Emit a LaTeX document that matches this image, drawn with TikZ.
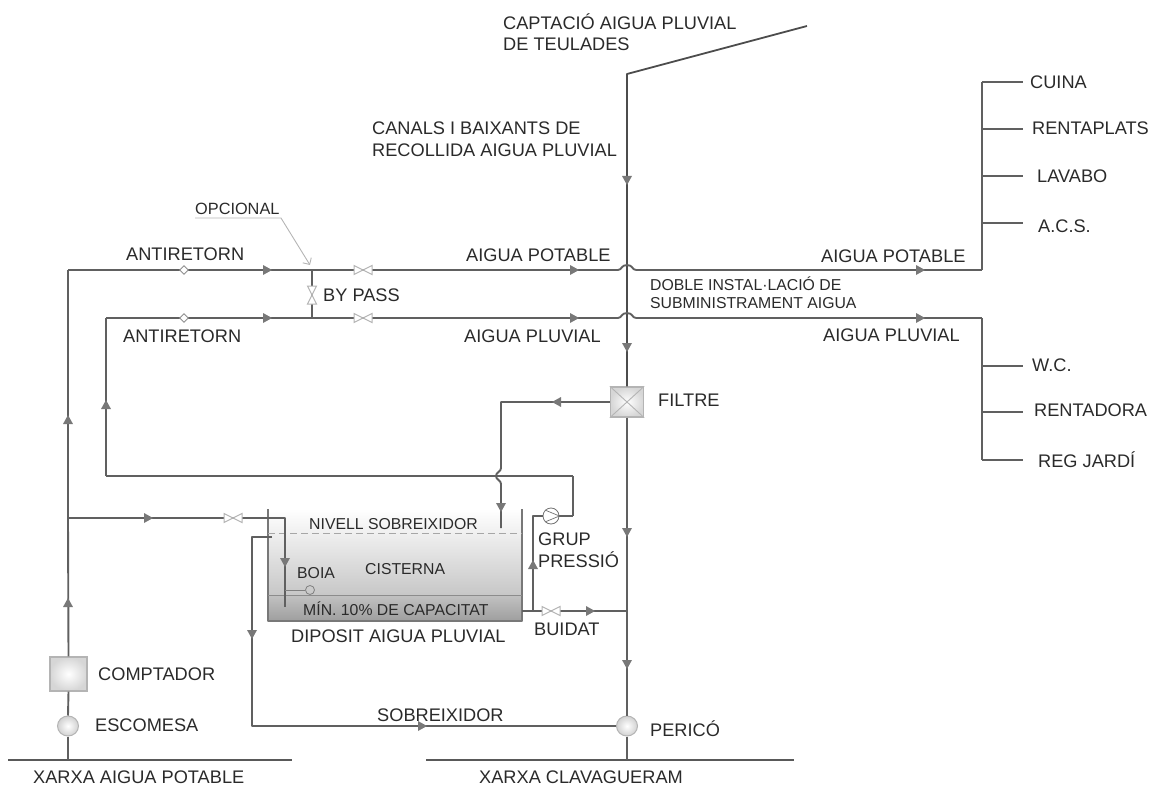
\documentclass[tikz,border=0pt]{standalone}
\usepackage{fontspec}
\setmainfont{Liberation Sans}
\usetikzlibrary{arrows.meta,calc,shapes.geometric}
\definecolor{pipec}{HTML}{606060}
\definecolor{txtc}{HTML}{2A2A2A}
\definecolor{edgec}{HTML}{B4B4B4}
\tikzset{
  pipe/.style={draw=pipec,line width=1.9pt,line join=round},
  lab/.style={text=txtc,font=\fontsize{18.2}{21.5}\selectfont,inner sep=0pt,align=left},
  midlab/.style={text=txtc,font=\fontsize{15.8}{18}\selectfont,inner sep=0pt,align=left},
  valveh/.style={draw=edgec,fill=white,line width=1pt},
  roundel/.style={ellipse,draw=edgec,line width=1pt,inner color=white,outer color=black!18,inner sep=0pt},
  boxnode/.style={rectangle,draw=edgec,line width=1.4pt,inner color=white,outer color=black!16,inner sep=0pt},
}
\newcommand{\hvalve}[1]{\draw[valveh] ($(#1)+(-9,-4.5)$) -- ($(#1)+(9,4.5)$) -- ($(#1)+(9,-4.5)$) -- ($(#1)+(-9,4.5)$) -- cycle;}
\newcommand{\vvalve}[1]{\draw[valveh] ($(#1)+(-4.5,-9)$) -- ($(#1)+(4.5,9)$) -- ($(#1)+(-4.5,9)$) -- ($(#1)+(4.5,-9)$) -- cycle;}
\begin{document}
\begin{tikzpicture}[x=1pt,y=-1pt]
\useasboundingbox (0,0) rectangle (1160,789);
% tank
\shade[top color=white,bottom color=black!22] (268,509) rectangle (522,595);
\shade[top color=black!24,bottom color=black!38] (268,595) rectangle (522,621);
\draw[draw=pipec!85,line width=1.7pt,line join=round] (268,509) -- (268,621) -- (522,621) -- (522,509);
\draw[draw=black!45,line width=0.8pt] (268,595) -- (522,595);
\draw[draw=black!35,line width=1pt,dash pattern=on 7pt off 4pt] (268,533) -- (522,533);
% coordinates
\coordinate (roof) at (807,26);
\coordinate (top) at (627,74);
\coordinate (pl) at (68,270);
\coordinate (pr) at (982,270);
\coordinate (ql) at (106,318);
\coordinate (qr) at (982,318);
\coordinate (bypassT) at (312,270);
\coordinate (bypassB) at (312,318);
\coordinate (hop1a) at (618,270);
\coordinate (hop1b) at (636,270);
\coordinate (hop2a) at (618,318);
\coordinate (hop2b) at (636,318);
\coordinate (tap) at (68,518);
\coordinate (fillcorner) at (285,518);
\coordinate (fillend) at (285,607);
\coordinate (boiaS) at (285,590);
\coordinate (ovS) at (272,537);
\coordinate (ovC) at (252,537);
\coordinate (ovD) at (252,726);
\coordinate (drainS) at (522,611);
\coordinate (drainE) at (627,611);
\coordinate (pumpC) at (533,611);
\coordinate (pumpT) at (533,516);
\coordinate (retA) at (573,516);
\coordinate (retB) at (573,476);
\coordinate (retC) at (106,476);
\coordinate (fA) at (501,402);
\coordinate (fB) at (501,468);
\coordinate (fC) at (501,484);
\coordinate (fD) at (501,528);
\coordinate (b1) at (8,760);
\coordinate (b2) at (292,760);
\coordinate (b3) at (426,760);
\coordinate (b4) at (794,760);
\coordinate (j1) at (68,760);
\coordinate (j2) at (627,760);
\coordinate (ct) at (982,82);
\coordinate (cb) at (982,460);
% equipment nodes
\node[boxnode,minimum width=37pt,minimum height=34pt] (comp) at (68.5,674) {};
\node[roundel,minimum width=21pt,minimum height=20pt] (esc) at (68,726) {};
\node[roundel,minimum width=21pt,minimum height=20pt] (per) at (627,726) {};
\node[boxnode,minimum width=33pt,minimum height=30pt] (filt) at (627,402) {};
\node[circle,draw=black!55,fill=white,line width=0.8pt,minimum size=16pt,inner sep=0pt] (pump) at (551,516) {};
\node[circle,draw=black!50,fill=none,line width=0.8pt,minimum size=9pt,inner sep=0pt] (boia) at (310,590) {};
% network lines
\draw[draw=black!65,line width=1.5pt] (b1) -- (b2);
\draw[draw=black!65,line width=1.5pt] (b3) -- (b4);
% main vertical
\draw[draw=black!70,line width=1.8pt,line join=round] (roof) -- (top) -- (filt.north);
\draw[pipe] (filt.south) -- (per.north);
\draw[pipe] (per.south) -- (j2);
% left vertical
\draw[pipe] (esc.south) -- (j1);
\draw[pipe] (comp.south) -- (esc.north);
\draw[pipe] (comp.north) -- (tap);
\draw[pipe] (tap) -- (pl);
% potable
\draw[pipe] (pl) -- (bypassT);
\draw[pipe] (bypassT) -- (hop1a) .. controls (622,270) and (621,265) .. (627,265) .. controls (633,265) and (632,270) .. (hop1b);
\draw[pipe] (hop1b) -- (pr);
% pluvial
\draw[pipe] (ql) -- (bypassB);
\draw[pipe] (bypassB) -- (hop2a) .. controls (622,318) and (621,313) .. (627,313) .. controls (633,313) and (632,318) .. (hop2b);
\draw[pipe] (hop2b) -- (qr);
\draw[pipe] (bypassT) -- (bypassB);
% return to x=106
\draw[pipe] (retC) -- (ql);
\draw[pipe] (retB) -- (retC);
\draw[pipe] (retA) -- (retB);
\draw[pipe] (pump.east) -- (retA);
\draw[pipe] (pumpC) -- (pumpT) -- (pump.west);
% supply to tank
\draw[pipe] (tap) -- (fillcorner) -- (fillend);
\draw[pipe] (ovS) -- (ovC) -- (ovD) -- (per.west);
\draw[draw=black!50,line width=0.9pt] (boiaS) -- (boia.west);
% filter out
\draw[pipe] (filt.west) -- (fA) -- (fB) .. controls (501,472) and (496,472) .. (496,476) .. controls (496,480) and (501,480) .. (fC) -- (fD);
% drain
\draw[pipe] (drainS) -- (drainE);
% arrowheads
\foreach \p/\y in {267/270,267/318,574/270,574/318,920/270,920/318,148/518,422/726,590/611}{
  \fill[pipec!85] (\p-4,\y-5) -- (\p+5,\y) -- (\p-4,\y+5) -- cycle;}
\foreach \p/\y in {627/180,627/347,627/532,627/664,285/562,252/634,501/507}{
  \fill[pipec!85] (\p-5,\y-4) -- (\p+5,\y-4) -- (\p,\y+5) -- cycle;}
\foreach \p/\y in {68/420,68/603,106/405,533/565}{
  \fill[pipec!85] (\p-5,\y+4) -- (\p+5,\y+4) -- (\p,\y-5) -- cycle;}
\fill[pipec!85] (552,402) -- (561,397) -- (561,407) -- cycle;
% branches
\draw[pipe] (ct) -- (pr);
\draw[pipe] (qr) -- (cb);
\foreach \n/\y in {cuina/82,rent/129,lava/176,acs/223,wc/366,rentad/412,reg/460}{
  \coordinate (\n) at (982,\y);
  \coordinate (\n e) at (1023,\y);
  \draw[draw=pipec,line width=1.5pt] (\n) -- (\n e);}
% valves
\coordinate (v1) at (233,518); \hvalve{v1}
\coordinate (v2) at (363,270); \hvalve{v2}
\coordinate (v3) at (363,318); \hvalve{v3}
\coordinate (v4) at (551,611); \hvalve{v4}
\coordinate (v5) at (312,295); \vvalve{v5}
\foreach \n/\y in {d1/270,d2/318}{
  \node[diamond,draw=edgec!80!black,fill=white,line width=0.9pt,minimum size=9pt,inner sep=0pt] (\n) at (184,\y) {};}
% symbols on filter and pump
\draw[draw=edgec,line width=0.9pt] (filt.north west) -- (filt.south east) (filt.north east) -- (filt.south west);
\draw[draw=black!55,line width=0.7pt] (pump.north west) -- (pump.east) -- (pump.south west);
% opcional leader
\coordinate (op1) at (195,218);
\coordinate (op2) at (281,218);
\coordinate (op3) at (310,265);
\draw[draw=edgec,line width=0.9pt,-{Straight Barb[length=5pt]}] (op1) -- (op2) -- (op3);
% labels
\node[lab,anchor=west] (t1) at (503,32) {CAPTACIÓ AIGUA PLUVIAL\\DE TEULADES};
\node[lab,anchor=west] (t2) at (372,139) {CANALS I BAIXANTS DE\\RECOLLIDA AIGUA PLUVIAL};
\node[midlab,anchor=west,font=\fontsize{16.3}{18}\selectfont] (t3) at (195,209) {OPCIONAL};
\node[lab,anchor=west] (t4) at (126,254) {ANTIRETORN};
\node[lab,anchor=west] (t5) at (123,336) {ANTIRETORN};
\node[lab,anchor=west] (t6) at (323,295) {BY PASS};
\node[lab,anchor=west] (t7) at (466,255) {AIGUA POTABLE};
\node[lab,anchor=west] (t8) at (464,336) {AIGUA PLUVIAL};
\node[lab,anchor=west] (t9) at (821,256) {AIGUA POTABLE};
\node[lab,anchor=west] (t10) at (823,335) {AIGUA PLUVIAL};
\node[midlab,anchor=west] (t11) at (650,293) {DOBLE INSTAL·LACIÓ DE\\SUBMINISTRAMENT AIGUA};
\node[lab,anchor=west] (t12) at (1030,82) {CUINA};
\node[lab,anchor=west] (t13) at (1032,128) {RENTAPLATS};
\node[lab,anchor=west] (t14) at (1037,176) {LAVABO};
\node[lab,anchor=west] (t15) at (1038,226) {A.C.S.};
\node[lab,anchor=west] (t16) at (1032,365) {W.C.};
\node[lab,anchor=west] (t17) at (1034,410) {RENTADORA};
\node[lab,anchor=west] (t18) at (1038,460) {REG JARDÍ};
\node[lab,anchor=west] (t19) at (658,400) {FILTRE};
\node[midlab,anchor=west] (t20) at (309,524) {NIVELL SOBREIXIDOR};
\node[midlab,anchor=west] (t21) at (365,569) {CISTERNA};
\node[midlab,anchor=west] (t22) at (297,573) {BOIA};
\node[midlab,anchor=west] (t23) at (303,609) {MÍN. 10\% DE CAPACITAT};
\node[lab,anchor=west] (t24) at (291,636) {DIPOSIT AIGUA PLUVIAL};
\node[lab,anchor=west] (t25) at (538,550) {GRUP\\PRESSIÓ};
\node[lab,anchor=west] (t26) at (534,629) {BUIDAT};
\node[lab,anchor=west] (t27) at (98,674) {COMPTADOR};
\node[lab,anchor=west] (t28) at (95,725) {ESCOMESA};
\node[lab,anchor=west] (t29) at (377,715) {SOBREIXIDOR};
\node[lab,anchor=west] (t30) at (650,729) {PERICÓ};
\node[lab,anchor=west] (t31) at (33,777) {XARXA AIGUA POTABLE};
\node[lab,anchor=west] (t32) at (479,777) {XARXA CLAVAGUERAM};
\end{tikzpicture}
\end{document}
